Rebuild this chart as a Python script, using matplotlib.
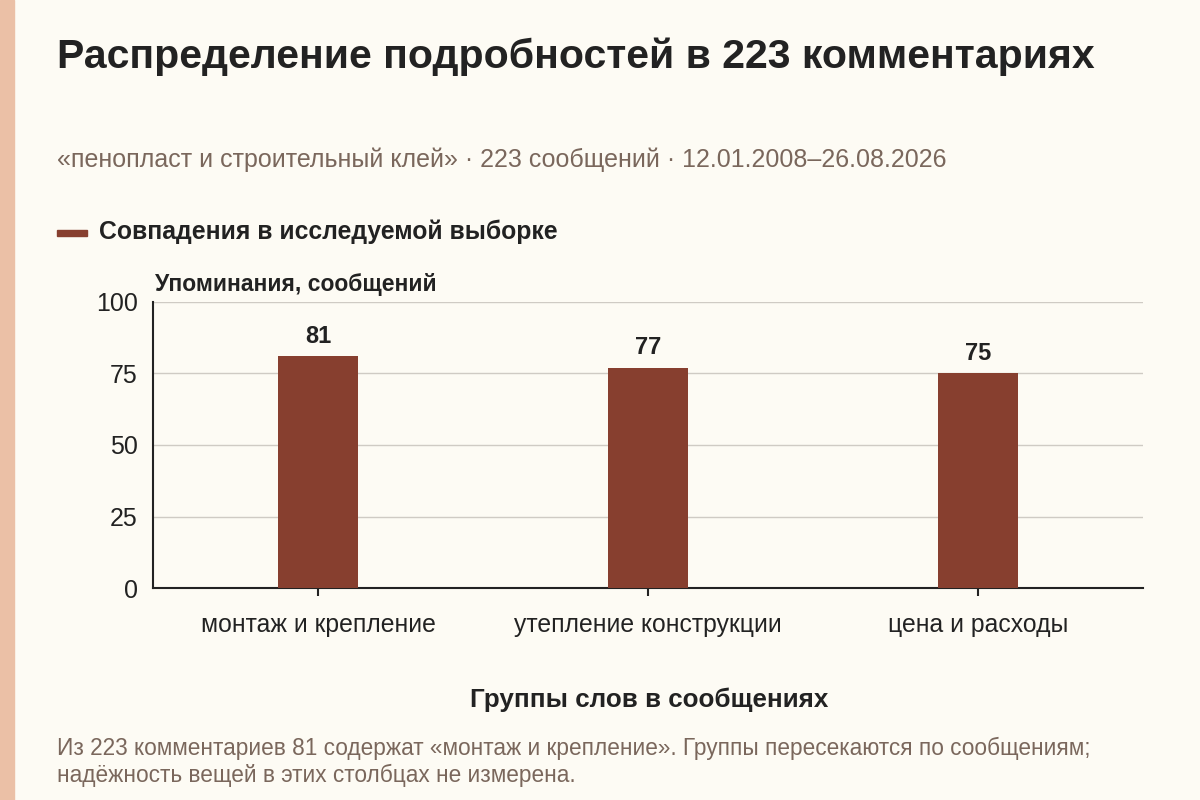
import matplotlib.pyplot as plt
from matplotlib.patches import Rectangle

plt.rcParams['font.family'] = ['Liberation Sans', 'DejaVu Sans']

categories = ['монтаж и крепление', 'утепление конструкции', 'цена и расходы']
values = [81, 77, 75]
yticks = [0, 25, 50, 75, 100]

title = 'Распределение подробностей в 223 комментариях'
subtitle = '«пенопласт и строительный клей» · 223 сообщений · 12.01.2008–26.08.2026'
legend_label = 'Совпадения в исследуемой выборке'
ylabel = 'Упоминания, сообщений'
xlabel = 'Группы слов в сообщениях'
note = ('Из 223 комментариев 81 содержат «монтаж и крепление». Группы пересекаются по сообщениям;\n'
        'надёжность вещей в этих столбцах не измерена.')

bg = '#FDFBF4'
bar_color = '#873F2F'
dark = '#222222'
muted = '#7A675C'

fig = plt.figure(figsize=(12, 8), dpi=100, facecolor=bg)
fig.patches.append(Rectangle((0, 0), 14 / 1200, 1, transform=fig.transFigure,
                             color='#EBC0A6', zorder=0))

fig.text(57 / 1200, 1 - 57 / 800, title, fontsize=29.5, fontweight='bold',
         color=dark, va='center')
fig.text(57 / 1200, 1 - 160 / 800, subtitle, fontsize=18, color=muted, va='center')

# legend
fig.patches.append(Rectangle((57 / 1200, 1 - 236 / 800), 30 / 1200, 6 / 800,
                             transform=fig.transFigure, color=bar_color))
fig.text(99 / 1200, 1 - 232 / 800, legend_label, fontsize=17.8, fontweight='bold',
         color=dark, va='center')

ax = fig.add_axes([153 / 1200, 1 - 588 / 800, 990 / 1200, 286 / 800])
ax.set_facecolor(bg)
x = range(len(categories))
bars = ax.bar(x, values, width=0.242, color=bar_color, zorder=3)
for xi, v in zip(x, values):
    ax.text(xi, v + 3, str(v), ha='center', va='bottom', fontsize=17,
            fontweight='bold', color=dark)

ax.set_xlim(-0.5, 2.5)
ax.set_ylim(0, 100)
ax.set_yticks(yticks)
ax.set_yticklabels([str(t) for t in yticks], fontsize=18, color=dark)
ax.set_xticks(list(x))
ax.set_xticklabels(categories, fontsize=17.8, color=dark)
ax.tick_params(axis='y', length=0, pad=11)
ax.tick_params(axis='x', length=6, width=1.5, color=dark, pad=12)
ax.grid(axis='y', color='#CFCBC4', linewidth=1, zorder=0)
for s in ['top', 'right']:
    ax.spines[s].set_visible(False)
ax.spines['left'].set_linewidth(1.5)
ax.spines['bottom'].set_linewidth(1.5)
ax.spines['left'].set_color(dark)
ax.spines['bottom'].set_color(dark)

fig.text(155 / 1200, 1 - 285 / 800, ylabel, fontsize=16.5, fontweight='bold',
         color=dark, va='center')
fig.text(649 / 1200, 1 - 700 / 800, xlabel, fontsize=18.7, fontweight='bold',
         color=dark, ha='center', va='center')
fig.text(57 / 1200, 1 - 762 / 800, note, fontsize=16.3, color=muted, va='center',
         linespacing=1.2)

fig.savefig('out.png', dpi=100, facecolor=bg)
